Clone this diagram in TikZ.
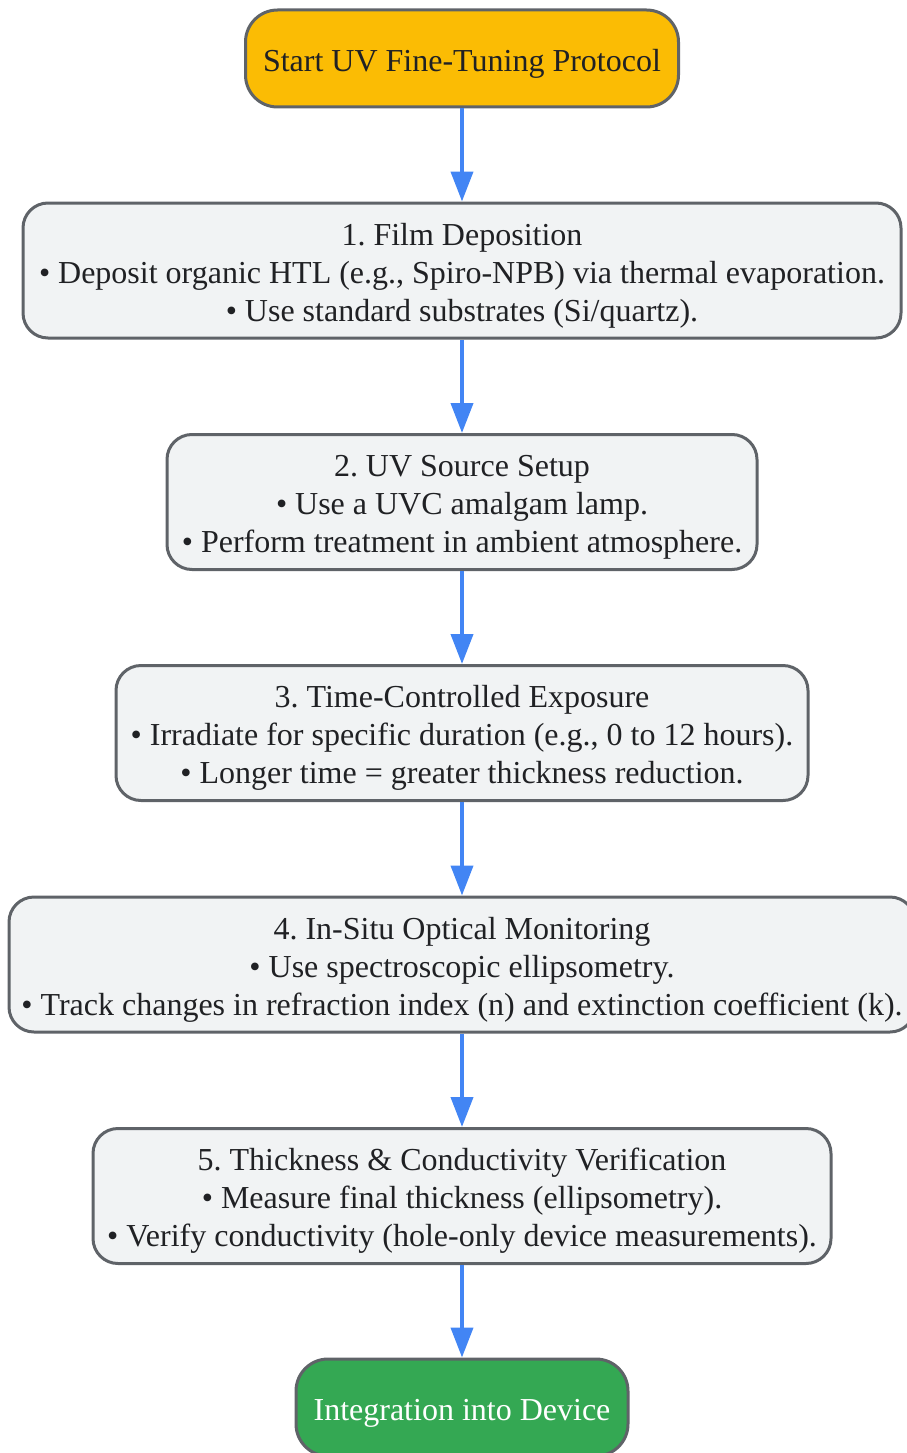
\documentclass[tikz,border=0pt]{standalone}
\usepackage{fontspec}
\setmainfont{Liberation Serif}
\usetikzlibrary{arrows.meta}
\definecolor{bordergray}{HTML}{5F6368}
\definecolor{boxfill}{HTML}{F1F3F4}
\definecolor{startyellow}{HTML}{FBBC04}
\definecolor{endgreen}{HTML}{34A853}
\definecolor{arrowblue}{HTML}{4285F4}
\definecolor{textdark}{HTML}{202124}
\frenchspacing
\newcommand{\toplift}{\rule{0pt}{32pt}}
\begin{document}
\begin{tikzpicture}[x=1pt,y=-1pt,
  base/.style={draw=bordergray, line width=3pt, align=center, inner sep=0pt,
    font=\fontsize{32}{38}\selectfont\frenchspacing, text=textdark},
  stepbox/.style={base, fill=boxfill, rounded corners=25pt, minimum height=135pt},
  termbox/.style={base, rounded corners=32pt, minimum height=97pt},
  flow/.style={draw=arrowblue, line width=4pt, -{Triangle[width=22pt,length=30pt]}}
]
\useasboundingbox (0,0) rectangle (907,1453);
\node[termbox, fill=startyellow, minimum width=433pt] (start) at (462,58.5) {\toplift Start UV Fine-Tuning Protocol};
\node[stepbox, minimum width=878pt] (s1) at (462,270.5) {\toplift 1. Film Deposition\\• Deposit organic HTL (e.g., Spiro-NPB) via thermal evaporation.\\• Use standard substrates (Si/quartz).};
\node[stepbox, minimum width=590pt] (s2) at (462,502) {\toplift 2. UV Source Setup\\• Use a UVC amalgam lamp.\\• Perform treatment in ambient atmosphere.};
\node[stepbox, minimum width=692pt] (s3) at (462,733) {\toplift 3. Time-Controlled Exposure\\• Irradiate for specific duration (e.g., 0 to 12 hours).\\• Longer time = greater thickness reduction.};
\node[stepbox, minimum width=906pt] (s4) at (462,964.5) {\toplift 4. In-Situ Optical Monitoring\\• Use spectroscopic ellipsometry.\\• Track changes in refraction index (n) and extinction coefficient (k).};
\node[stepbox, minimum width=738pt] (s5) at (462,1196) {\toplift 5. Thickness \& Conductivity Verification\\• Measure final thickness (ellipsometry).\\• Verify conductivity (hole-only device measurements).};
\node[termbox, fill=endgreen, text=white, minimum width=332pt] (end) at (462,1407.5) {\toplift Integration into Device};
\draw[flow] (start) -- (s1);
\draw[flow] (s1) -- (s2);
\draw[flow] (s2) -- (s3);
\draw[flow] (s3) -- (s4);
\draw[flow] (s4) -- (s5);
\draw[flow] (s5) -- (end);
\end{tikzpicture}
\end{document}
